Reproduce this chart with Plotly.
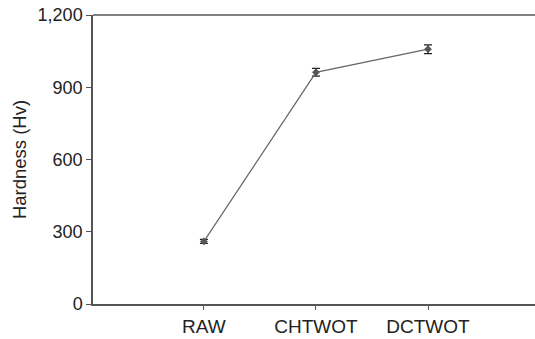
import plotly.graph_objects as go

categories = ["RAW", "CHTWOT", "DCTWOT"]
hardness = [260, 962, 1058]
errors = [8, 16, 18]
y_ticks = [0, 300, 600, 900, 1200]
y_tick_labels = ["0", "300", "600", "900", "1,200"]

fig = go.Figure()
fig.add_trace(go.Scatter(
    x=[0, 1, 2], y=hardness,
    mode="lines+markers",
    line=dict(color="#666666", width=1.2),
    marker=dict(symbol="diamond", size=6, color="#555555"),
    error_y=dict(type="data", array=errors, color="#222222", thickness=1.3, width=4),
    showlegend=False,
))

fig.update_layout(
    width=535, height=339,
    margin=dict(l=93, r=0, t=15, b=35),
    paper_bgcolor="white", plot_bgcolor="white",
    font=dict(family="Liberation Sans, Arial, sans-serif", size=18, color="#222222"),
)
fig.update_xaxes(
    range=[-0.99, 2.955],
    tickvals=[0, 1, 2], ticktext=categories,
    showgrid=False, zeroline=False,
    showline=True, linecolor="#555555", linewidth=1.5,
    ticks="outside", ticklen=4, tickcolor="#555555",
    tickfont=dict(size=19),
    mirror=False,
)
fig.update_yaxes(
    range=[0, 1200],
    tickvals=y_ticks, ticktext=y_tick_labels,
    showgrid=False, zeroline=False,
    showline=True, linecolor="#555555", linewidth=1.5,
    ticks="outside", ticklen=5, tickcolor="#555555",
    tickfont=dict(size=18),
    title=dict(text="Hardness (Hv)", standoff=6, font=dict(size=18.5)),
)
# top border line
fig.add_shape(type="line", xref="paper", yref="paper", x0=0, x1=1, y0=1, y1=1,
              line=dict(color="#555555", width=1.5))

fig.write_html("out.html", config={"displayModeBar": False},
               post_script="document.body.style.margin='0';document.body.style.overflow='hidden';document.documentElement.style.overflow='hidden';")
